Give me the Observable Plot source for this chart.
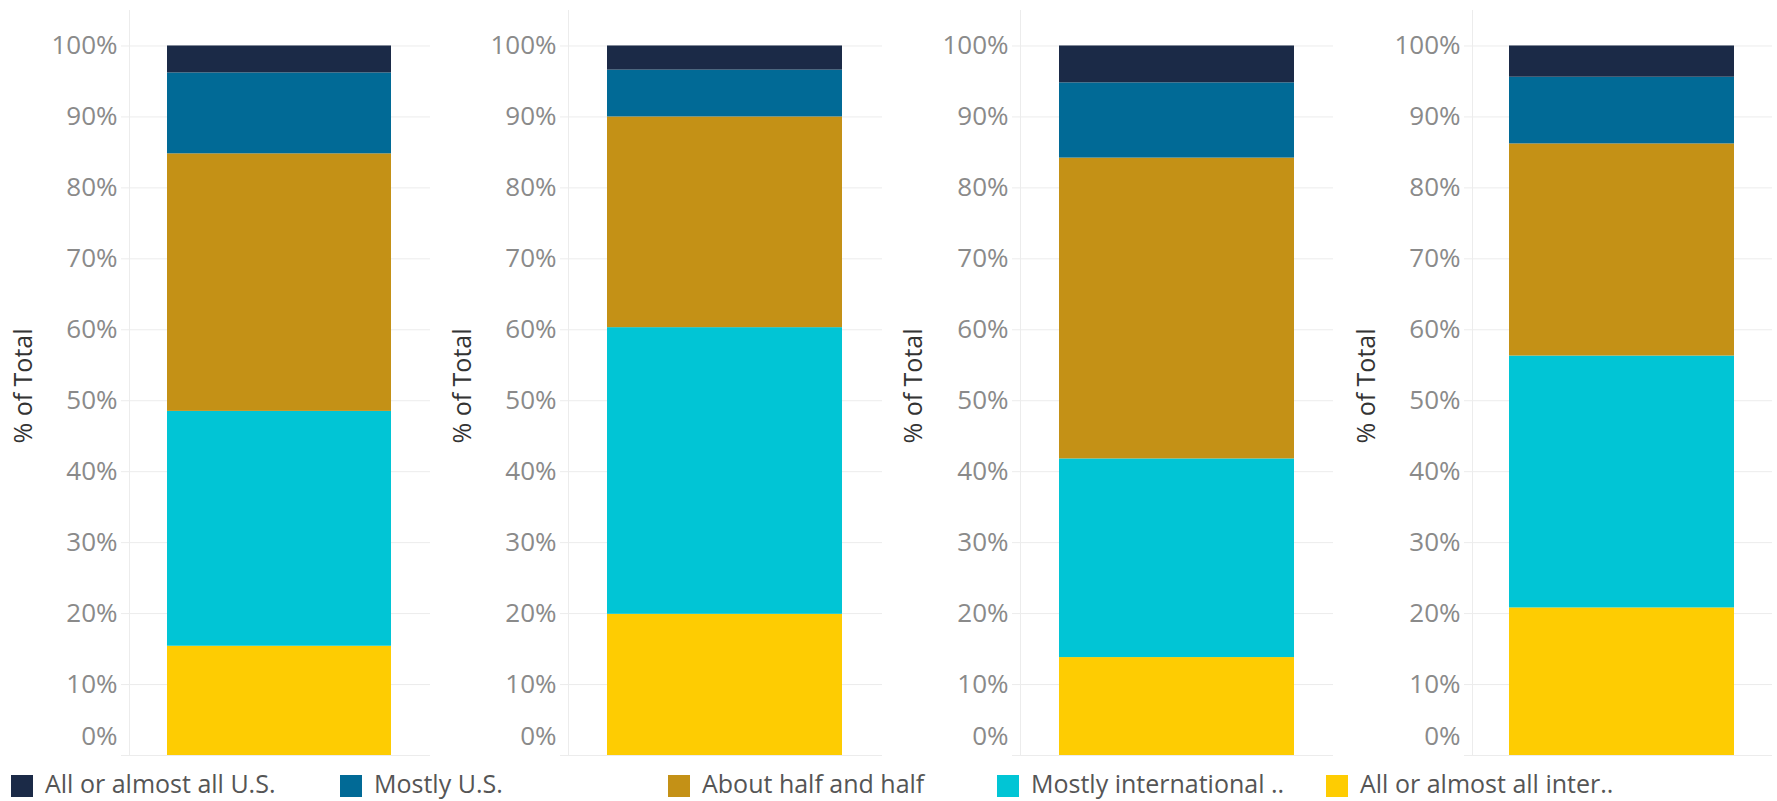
<!DOCTYPE html>
<html>
<head>
<meta charset="utf-8">
<script src="https://cdn.jsdelivr.net/npm/d3@7"></script>
<script src="https://cdn.jsdelivr.net/npm/@observablehq/plot@0.6"></script>
<style>
html, body { margin: 0; padding: 0; background: #fff; }
#root { position: relative; width: 1777px; height: 801px; overflow: hidden; font-family: "Open Sans", sans-serif; }
.panel { position: absolute; top: 0; }
.item { position: absolute; top: 766px; height: 34px; white-space: nowrap; font-size: 25px; color: #555; }
.sw { position: absolute; top: 9px; left: 0; width: 22px; height: 22px; }
.lab { position: absolute; left: 34px; top: 0; line-height: 34px; }
</style>
</head>
<body>
<div id="root"></div>
<script>
// Response categories (legend order, top of stack first)
const categories = ["All or almost all U.S.", "Mostly U.S.", "About half and half", "Mostly international ..", "All or almost all inter.."];
// Four panels (unlabelled in the original)
const panels = ["Panel 1", "Panel 2", "Panel 3", "Panel 4"];
// % of total per panel
const allUS      = [3.8, 3.4, 5.2, 4.4];
const mostlyUS   = [11.4, 6.6, 10.6, 9.4];
const halfHalf   = [36.3, 29.7, 42.4, 29.9];
const mostlyIntl = [33.1, 40.4, 28.0, 35.5];
const allIntl    = [15.4, 19.9, 13.8, 20.8];
const yTicks = [0, 10, 20, 30, 40, 50, 60, 70, 80, 90, 100];

const colors = ["#1b2a47", "#016a96", "#c49116", "#01c5d5", "#fecc02"];
const seriesByCat = [allUS, mostlyUS, halfHalf, mostlyIntl, allIntl];

// layout of each panel (page pixels)
const layout = [
  {left: 0,    axis: 129,  bar: [167, 391],   end: 430,  title: 23},
  {left: 440,  axis: 568,  bar: [607, 842],   end: 882,  title: 462},
  {left: 890,  axis: 1020, bar: [1059, 1294], end: 1333, title: 913},
  {left: 1340, axis: 1472, bar: [1509, 1734], end: 1772, title: 1366}
];

const root = document.getElementById("root");

panels.forEach((p, i) => {
  const rows = [];
  for (let c = categories.length - 1; c >= 0; c--) {
    rows.push({panel: p, category: categories[c], value: seriesByCat[c][i]});
  }
  const L = layout[i];
  const frameLeft = L.axis - 8;
  const chart = Plot.plot({
    width: L.end - L.left,
    height: 770,
    marginLeft: frameLeft - L.left,
    marginRight: 0,
    marginTop: 10,
    marginBottom: 15,
    style: {fontFamily: "'Open Sans', sans-serif", fontSize: "26px", background: "transparent", overflow: "visible"},
    x: {type: "band", domain: [p], range: [L.bar[0] - L.left, L.bar[1] - L.left], padding: 0, axis: null},
    y: {domain: [0, 105], axis: null},
    color: {domain: categories, range: colors},
    marks: [
      Plot.gridY(yTicks, {stroke: "#ececec", strokeOpacity: 1}),
      Plot.frame({anchor: "left", dx: 8, stroke: "#ececec"}),
      Plot.axisY(yTicks.filter(d => d > 0), {tickSize: 0, tickPadding: 4, color: "#8a8a8a", tickFormat: d => d + "%", label: null}),
      Plot.axisY([0], {tickSize: 0, tickPadding: 4, color: "#8a8a8a", tickFormat: d => d + "%", label: null, dy: -19}),
      Plot.barY(rows, {x: "panel", y: "value", fill: "category", order: categories.slice().reverse()}),
      Plot.text(["% of Total"], {frameAnchor: "left", dx: L.title - frameLeft, rotate: -90, fill: "#333", textAnchor: "middle", dy: 3, fontSize: 25})
    ]
  });
  const wrap = document.createElement("div");
  wrap.className = "panel";
  wrap.style.left = L.left + "px";
  wrap.appendChild(chart);
  root.appendChild(wrap);
});

// legend
const legendX = [11, 340, 668, 997, 1326];
categories.forEach((c, k) => {
  const it = document.createElement("div");
  it.className = "item";
  it.style.left = legendX[k] + "px";
  const sw = document.createElement("div");
  sw.className = "sw";
  sw.style.background = colors[k];
  const lab = document.createElement("div");
  lab.className = "lab";
  lab.textContent = c;
  it.appendChild(sw);
  it.appendChild(lab);
  root.appendChild(it);
});
</script>
</body>
</html>
